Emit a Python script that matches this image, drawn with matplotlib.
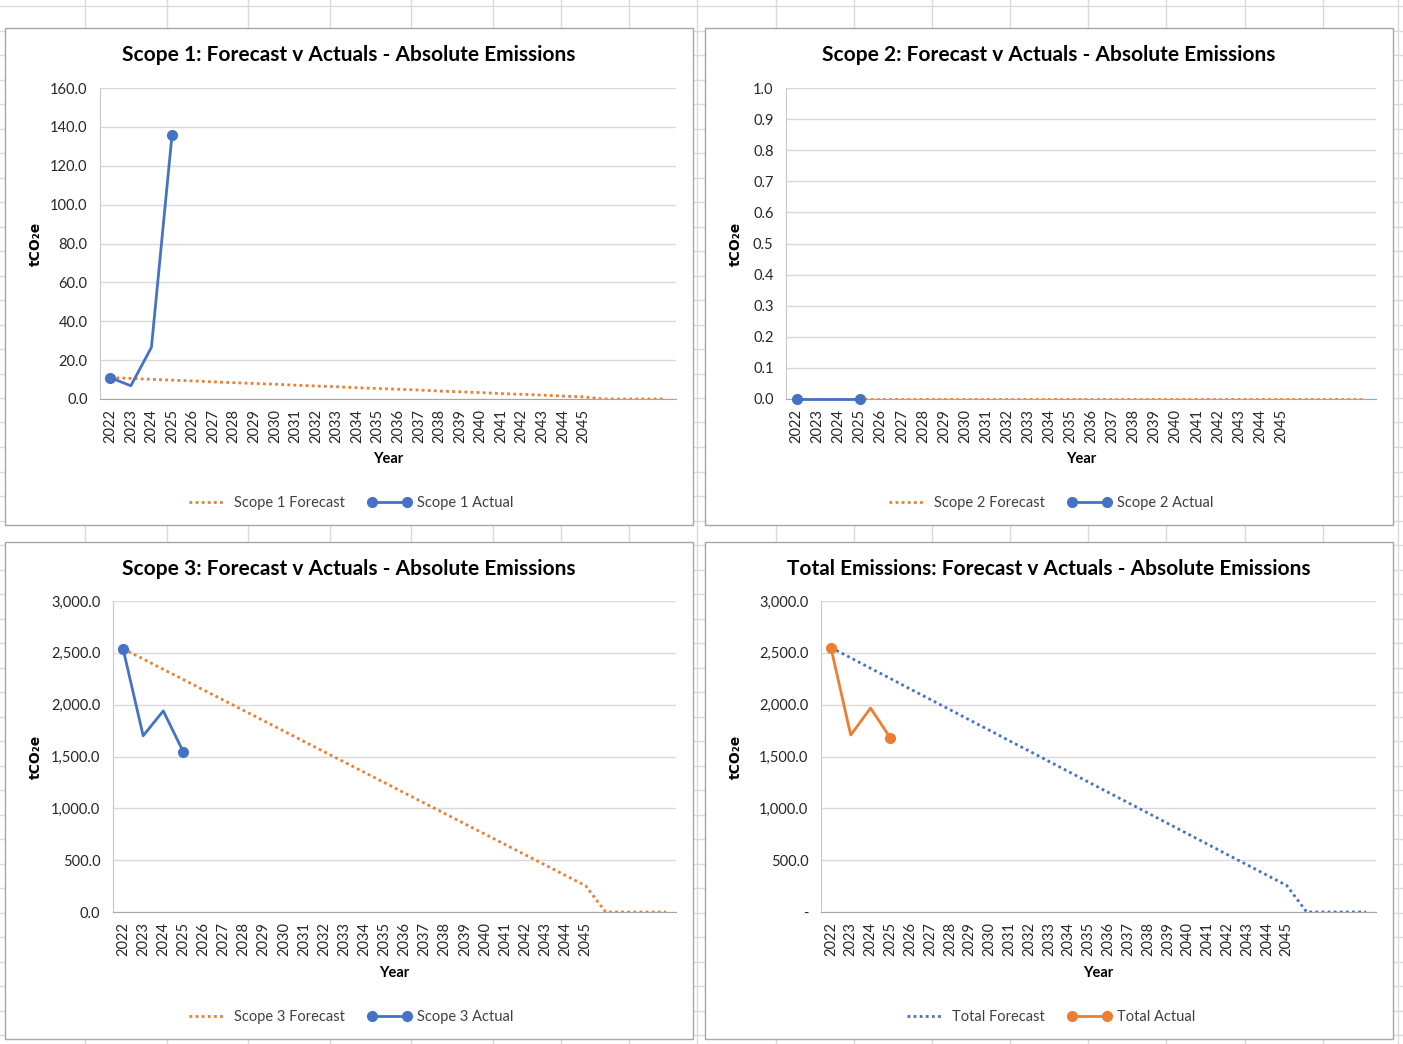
import matplotlib
matplotlib.use('Agg')
import matplotlib.pyplot as plt
from matplotlib.lines import Line2D
from matplotlib.patches import Rectangle
from matplotlib.ticker import FuncFormatter

plt.rcParams['font.family'] = ['Lato', 'DejaVu Sans']

# data
years = [str(y) for y in range(2022, 2046)] + ['', '', '', '']

s1_forecast = [11.0, 10.6, 10.1, 9.7, 9.3, 8.8, 8.4, 8.0, 7.6, 7.1, 6.7, 6.3, 5.8, 5.4,
               5.0, 4.6, 4.1, 3.7, 3.3, 2.8, 2.4, 2.0, 1.5, 1.1, 0.0, 0.0, 0.0, 0.0]
s1_actual = [11.0, 6.8, 26.6, 135.8]

s2_forecast = [0.0] * 28
s2_actual = [0.0, 0.0, 0.0, 0.0]

s3_forecast = [2540, 2441, 2341, 2242, 2142, 2043, 1944, 1844, 1745, 1645, 1546, 1447, 1347, 1248,
               1148, 1049, 950, 850, 751, 651, 552, 453, 353, 254, 0, 0, 0, 0]
s3_actual = [2540, 1700, 1940, 1543]

total_forecast = [2551, 2452, 2351, 2252, 2151, 2052, 1952, 1852, 1753, 1652, 1553, 1453, 1353, 1253,
                  1153, 1054, 954, 854, 754, 654, 554, 455, 355, 255, 0, 0, 0, 0]
total_actual = [2551, 1707, 1967, 1679]

ORANGE = '#ED7D31'
BLUE = '#4472C4'
W, H = 1403, 1044

fig = plt.figure(figsize=(W / 100, H / 100), dpi=100)


def fx(x):
    return x / W


def fy(y):
    return 1 - y / H


# spreadsheet cell grid in the background
col_x = [85, 167, 248, 330, 411, 493, 561, 629, 697, 776, 854, 932, 1010, 1088, 1166, 1245, 1323, 1398]
for x in col_x:
    fig.add_artist(Line2D([fx(x), fx(x)], [0, 1], color='#DADADA', lw=1,
                          transform=fig.transFigure, zorder=-3))
y = 6
while y < H:
    fig.add_artist(Line2D([0, 1], [fy(y), fy(y)], color='#DADADA', lw=1,
                          transform=fig.transFigure, zorder=-3))
    y += 24.5

charts = [
    dict(frame=(5, 28, 693, 525), plot=(100, 88, 676, 399),
         title='Scope 1: Forecast v Actuals - Absolute Emissions',
         fc=s1_forecast, act=s1_actual, fc_color=ORANGE, act_color=BLUE,
         fc_name='Scope 1 Forecast', act_name='Scope 1 Actual',
         ymax=160, step=20, fmt='{:.1f}', dash_zero=False),
    dict(frame=(705, 28, 1393, 525), plot=(786, 88, 1376, 399),
         title='Scope 2: Forecast v Actuals - Absolute Emissions',
         fc=s2_forecast, act=s2_actual, fc_color=ORANGE, act_color=BLUE,
         fc_name='Scope 2 Forecast', act_name='Scope 2 Actual',
         ymax=1.0, step=0.1, fmt='{:.1f}', dash_zero=False),
    dict(frame=(5, 542, 693, 1039), plot=(113, 601, 676, 912),
         title='Scope 3: Forecast v Actuals - Absolute Emissions',
         fc=s3_forecast, act=s3_actual, fc_color=ORANGE, act_color=BLUE,
         fc_name='Scope 3 Forecast', act_name='Scope 3 Actual',
         ymax=3000, step=500, fmt='{:,.1f}', dash_zero=False),
    dict(frame=(705, 542, 1393, 1039), plot=(821, 601, 1376, 912),
         title='Total Emissions: Forecast v Actuals - Absolute Emissions',
         fc=total_forecast, act=total_actual, fc_color=BLUE, act_color=ORANGE,
         fc_name='Total Forecast', act_name='Total Actual',
         ymax=3000, step=500, fmt='{:,.1f}', dash_zero=True),
]

for c in charts:
    x0, y0, x1, y1 = c['frame']
    fig.add_artist(Rectangle((fx(x0), fy(y1)), fx(x1 - x0), (y1 - y0) / H,
                             transform=fig.transFigure, facecolor='white',
                             edgecolor='#A6A6A6', lw=1, zorder=-1))
    px0, py0, px1, py1 = c['plot']
    ax = fig.add_axes([fx(px0), fy(py1), fx(px1 - px0), (py1 - py0) / H])
    ax.set_facecolor('none')

    xs = list(range(len(c['fc'])))
    ax.plot(xs, c['fc'], color=c['fc_color'], lw=2, linestyle=(0, (1, 1.2)),
            label=c['fc_name'], zorder=3)
    ax.plot(range(len(c['act'])), c['act'], color=c['act_color'], lw=2,
            marker='o', markersize=7, markevery=[0, len(c['act']) - 1],
            label=c['act_name'], zorder=4, clip_on=False)

    ax.set_xlim(-0.5, len(years) - 0.5)
    ax.set_ylim(0, c['ymax'])
    n = int(round(c['ymax'] / c['step']))
    ax.set_yticks([i * c['step'] for i in range(n + 1)])
    fmt, dash = c['fmt'], c['dash_zero']
    ax.yaxis.set_major_formatter(FuncFormatter(
        lambda v, p, fmt=fmt, dash=dash: '-' if (dash and abs(v) < 1e-9) else fmt.format(v)))
    ax.set_xticks(xs)
    ax.set_xticklabels(years, rotation=90)
    ax.tick_params(axis='both', length=0, labelsize=10.5, colors='#262626')
    ax.tick_params(axis='y', pad=9)
    ax.tick_params(axis='x', pad=7)
    ax.grid(axis='y', color='#D9D9D9', lw=1)
    ax.set_axisbelow(True)
    for s in ['top', 'right']:
        ax.spines[s].set_visible(False)
    ax.spines['left'].set_color('#C8C8C8')
    ax.spines['bottom'].set_color('#A6A6A6')

    cx = (x0 + x1) / 2
    fig.text(fx(cx), fy(y0 + 27), c['title'], ha='center', va='center',
             fontsize=15, fontweight='bold', color='black')
    fig.text(fx(x0 + 31), fy((py0 + py1) / 2), 'tCO₂e', rotation=90, ha='center',
             va='center', fontsize=10, fontweight='bold', color='black',
             family=['DejaVu Sans'])
    fig.text(fx((px0 + px1) / 2), fy(y0 + 431), 'Year', ha='center', va='center',
             fontsize=10.5, fontweight='bold', color='black')
    ax.legend(loc='center', bbox_to_anchor=(fx(cx), fy(y0 + 475)),
              bbox_transform=fig.transFigure, ncol=2, frameon=False, numpoints=2,
              fontsize=10.5, handlelength=3.0, handletextpad=0.35, columnspacing=1.6,
              labelcolor='#404040')

plt.savefig('out.png', dpi=100)
